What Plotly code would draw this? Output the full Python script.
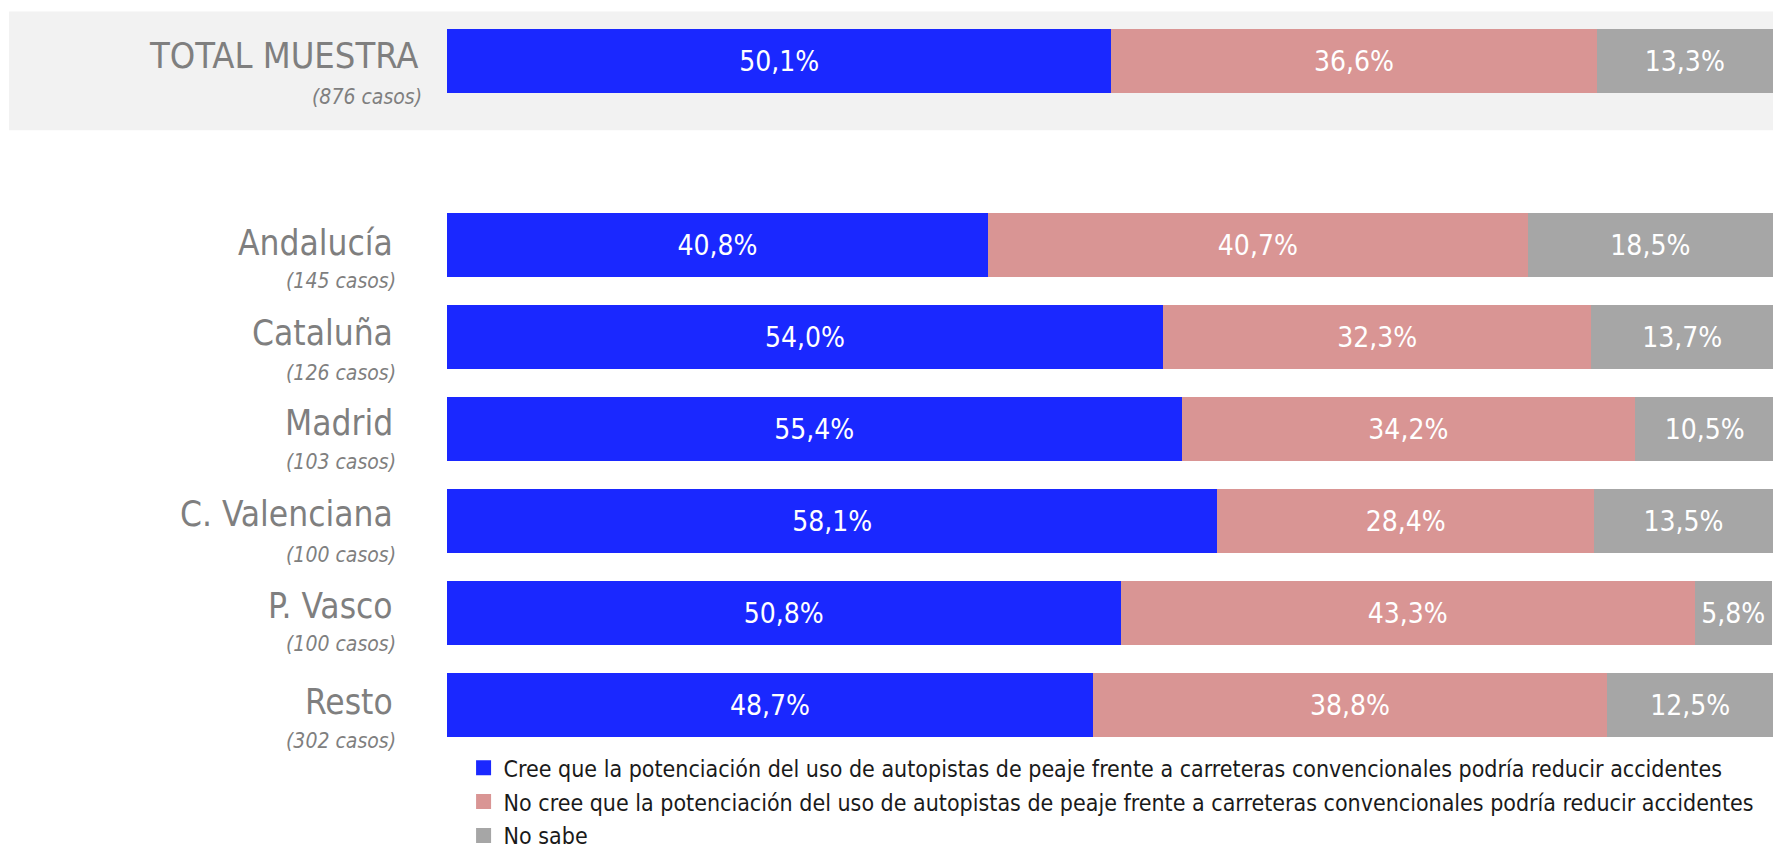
import plotly.graph_objects as go

# ---- data ----
categories = ["TOTAL MUESTRA", " ", "Andalucía", "Cataluña", "Madrid",
              "C. Valenciana", "P. Vasco", "Resto"]
rows = ["TOTAL MUESTRA", "Andalucía", "Cataluña", "Madrid",
        "C. Valenciana", "P. Vasco", "Resto"]
cases = ["(876 casos)", "(145 casos)", "(126 casos)", "(103 casos)",
         "(100 casos)", "(100 casos)", "(302 casos)"]
cree = [50.1, 40.8, 54.0, 55.4, 58.1, 50.8, 48.7]
no_cree = [36.6, 40.7, 32.3, 34.2, 28.4, 43.3, 38.8]
no_sabe = [13.3, 18.5, 13.7, 10.5, 13.5, 5.8, 12.5]
series_names = [
    "Cree que la potenciación del uso de autopistas de peaje frente a carreteras convencionales podría reducir accidentes",
    "No cree que la potenciación del uso de autopistas de peaje frente a carreteras convencionales podría reducir accidentes",
    "No sabe",
]

# ---- style ----
colors = ["#1a28ff", "#d99594", "#a6a6a6"]
FONT = "Liberation Sans Narrow, Arial Narrow, DejaVu Sans Condensed, sans-serif"
main_shift = [5.5, 2, 4, 6, 7.5, 7.5, 3.5]       # px up from bar centre
sub_shift = [-36, -36, -36, -33, -33.5, -31, -36]

fig = go.Figure()
for name, vals, col in zip(series_names, [cree, no_cree, no_sabe], colors):
    fig.add_trace(go.Bar(
        y=rows, x=vals, name=name, orientation="h", showlegend=False,
        marker=dict(color=col, line=dict(width=0)),
        texttemplate="%{x:.1f}%", textposition="inside", textangle=0,
        insidetextanchor="middle", constraintext="none",
        textfont=dict(family=FONT, size=28, color="white"),
        hoverinfo="skip",
    ))
# legend entries (square swatches)
for k, (name, col) in enumerate(zip(series_names, colors)):
    fig.add_trace(go.Scatter(
        x=[None], y=[None], name=name, mode="markers", legendgroup="g%d" % k,
        marker=dict(symbol="square", size=15, color=col),
        showlegend=True, hoverinfo="skip"))

# grey band behind total
fig.add_shape(type="rect", xref="paper", yref="paper",
              x0=-0.3303, x1=1.0, y0=0.8433, y1=1.0048,
              fillcolor="#f2f2f2", line=dict(width=0), layer="below")

annotations = []
for i, (r, c) in enumerate(zip(rows, cases)):
    is_total = i == 0
    annotations.append(dict(
        x=0, xref="paper", y=r, yref="y", xanchor="right", yanchor="middle",
        xshift=-27 if is_total else -52, yshift=main_shift[i],
        text=r, showarrow=False,
        font=dict(family=FONT, size=36 if is_total else 35, color="#7f7f7f")))
    annotations.append(dict(
        x=0, xref="paper", y=r, yref="y", xanchor="right", yanchor="middle",
        xshift=-23 if is_total else -49, yshift=sub_shift[i],
        text="<i>" + c + "</i>", showarrow=False,
        font=dict(family=FONT, size=21, color="#7f7f7f")))

fig.update_layout(
    width=1773, height=851,
    margin=dict(l=447, r=0, t=14.5, b=99.5, pad=0, autoexpand=False),
    barmode="stack", bargap=0.305,
    separators=",.",
    plot_bgcolor="white", paper_bgcolor="white",
    xaxis=dict(range=[0, 100], visible=False, fixedrange=True),
    yaxis=dict(type="category", categoryarray=categories, categoryorder="array",
               range=[7.5, -0.5], visible=False, fixedrange=True),
    showlegend=True,
    legend=dict(orientation="v", x=0.0125, xanchor="left", y=0.0065, yanchor="top",
                font=dict(family=FONT, size=23, color="#1a1a1a"),
                traceorder="grouped", bgcolor="rgba(0,0,0,0)", itemsizing="trace",
                itemclick=False, itemdoubleclick=False, tracegroupgap=1),
    annotations=annotations,
)

fig.write_html("out.html", config={"displayModeBar": False},
               post_script="document.body.style.margin='0';document.body.style.overflow='hidden';")
